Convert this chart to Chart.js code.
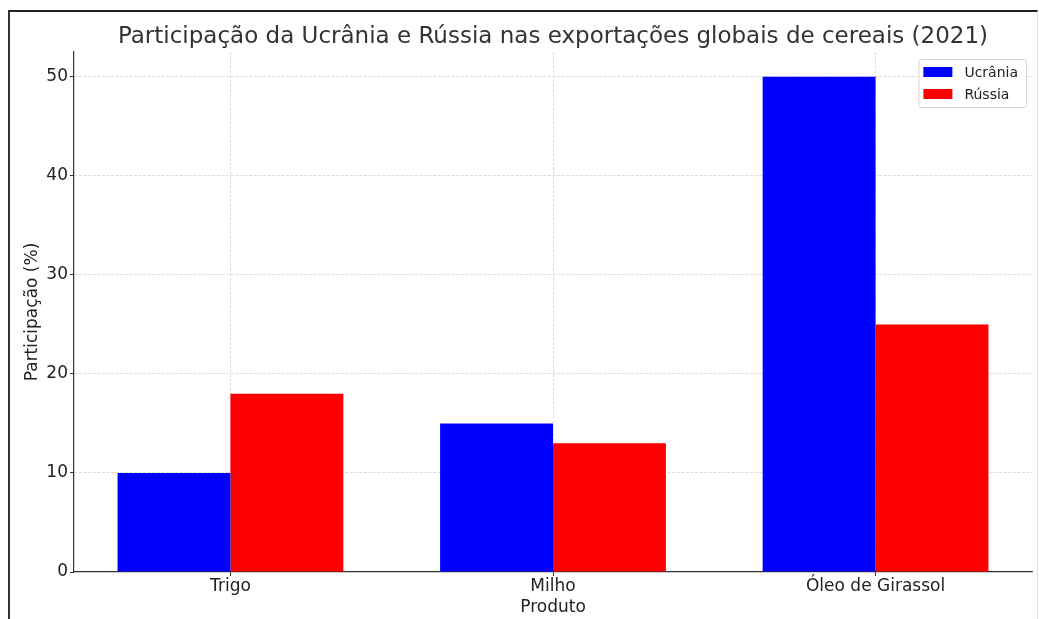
<!DOCTYPE html>
<html lang="pt">
<head>
<meta charset="utf-8">
<title>Participação da Ucrânia e Rússia nas exportações globais de cereais (2021)</title>
<script src="https://cdn.jsdelivr.net/npm/chart.js@4/dist/chart.umd.min.js"></script>
<style>
  html, body { margin: 0; padding: 0; background: #ffffff; overflow: hidden; }
  #wrap { position: relative; width: 1039px; height: 619px; }
  #chart { position: absolute; left: 0; top: 0; }
  #frame {
    position: absolute; left: 8px; top: 10px; width: 1027px; height: 620px;
    border-top: 2px solid #222; border-left: 2px solid #333; border-right: 1px solid #e2e2e2;
    pointer-events: none;
  }
</style>
</head>
<body>
<div id="wrap">
  <canvas id="chart" width="1039" height="619"></canvas>
  <div id="frame"></div>
</div>
<script>
// Products and each country's share of global exports (%)
const categories = ['Trigo', 'Milho', 'Óleo de Girassol'];
const ucrania = [10, 15, 50];
const russia = [18, 13, 25];
const seriesNames = ['Ucrânia', 'Rússia'];
const yTicks = [0, 10, 20, 30, 40, 50];

const FONT = "'DejaVu Sans', 'Liberation Sans', sans-serif";
const TEXT = '#222222';
const GRID = '#d3d3d3';
const SPINE = '#333333';

// Legend box drawn in the upper-right corner of the plot area
const cornerLegend = {
  id: 'cornerLegend',
  afterDraw(chart) {
    const { ctx, chartArea } = chart;
    const sets = chart.data.datasets;
    ctx.save();
    ctx.font = '14px ' + FONT;
    const textW = Math.max(...sets.map(d => ctx.measureText(d.label).width));
    const padL = 5, patchW = 29, patchH = 10, gap = 12, padR = 8, padV = 13, rowH = 22;
    const w = padL + patchW + gap + textW + padR;
    const h = padV * 2 + rowH * (sets.length - 1);
    const x = chartArea.right - 6 - w;
    const y = chartArea.top + 7;
    ctx.beginPath();
    ctx.roundRect(x + 0.5, y + 0.5, w, h, 3);
    ctx.fillStyle = 'rgba(255,255,255,0.85)';
    ctx.fill();
    ctx.strokeStyle = '#d4d4d4';
    ctx.lineWidth = 1;
    ctx.stroke();
    sets.forEach((d, i) => {
      const cy = y + padV + i * rowH;
      ctx.fillStyle = d.backgroundColor;
      ctx.fillRect(x + padL, cy - patchH / 2, patchW, patchH);
      ctx.fillStyle = TEXT;
      ctx.textBaseline = 'middle';
      ctx.textAlign = 'left';
      ctx.fillText(d.label, x + padL + patchW + gap, cy + 1);
    });
    ctx.restore();
  }
};

const gridColor = (c) => (c.tick && c.tick.value === 0 && c.scale.axis === 'y') ? 'rgba(0,0,0,0)' : GRID;

new Chart(document.getElementById('chart'), {
  type: 'bar',
  data: {
    datasets: [
      {
        label: seriesNames[0],
        data: ucrania.map((v, i) => ({ x: i, y: v })),
        backgroundColor: '#0000ff',
        borderWidth: 0,
        categoryPercentage: 0.7,
        barPercentage: 1.0
      },
      {
        label: seriesNames[1],
        data: russia.map((v, i) => ({ x: i, y: v })),
        backgroundColor: '#ff0000',
        borderWidth: 0,
        categoryPercentage: 0.7,
        barPercentage: 1.0
      }
    ]
  },
  options: {
    responsive: false,
    animation: false,
    devicePixelRatio: 1,
    layout: { padding: { left: 10, right: 7, top: 0, bottom: 0 } },
    plugins: {
      legend: { display: false },
      tooltip: { enabled: false },
      title: {
        display: true,
        text: 'Participação da Ucrânia e Rússia nas exportações globais de cereais (2021)',
        fullSize: false,
        color: '#333333',
        font: { family: FONT, size: 23, weight: 'normal', lineHeight: 1.2 },
        padding: { top: 23.2, bottom: 1.2 }
      }
    },
    scales: {
      x: {
        type: 'linear',
        position: 'bottom',
        min: -0.485,
        max: 2.485,
        offset: false,
        z: 1,
        grid: { offset: false, color: gridColor, lineWidth: 0.8, tickLength: 4, tickColor: SPINE, tickWidth: 1 },
        border: { display: true, color: SPINE, width: 1.2, dash: [3, 1.6] },
        ticks: {
          stepSize: 1,
          includeBounds: false,
          autoSkip: false,
          maxRotation: 0,
          padding: 0,
          color: TEXT,
          font: { family: FONT, size: 17 },
          callback: (v) => categories[v] ?? ''
        },
        title: {
          display: true,
          text: 'Produto',
          color: TEXT,
          font: { family: FONT, size: 17 },
          padding: { top: 0, bottom: 1 }
        },
        afterFit: (s) => { s.height = 47; }
      },
      y: {
        position: 'left',
        min: 0,
        max: 52.5,
        z: 1,
        grid: { color: gridColor, lineWidth: 0.8, tickLength: 4, tickColor: SPINE, tickWidth: 1 },
        border: { display: true, color: SPINE, width: 1.2, dash: [3, 1.6] },
        ticks: {
          stepSize: 10,
          includeBounds: false,
          padding: 2,
          color: TEXT,
          font: { family: FONT, size: 17 },
          callback: (v) => (yTicks.includes(v) ? String(v) : '')
        },
        title: {
          display: true,
          text: 'Participação (%)',
          color: TEXT,
          font: { family: FONT, size: 17 },
          padding: { top: 12.3, bottom: 0 }
        },
        afterFit: (s) => { s.width = 64; }
      }
    }
  },
  plugins: [cornerLegend]
});
</script>
</body>
</html>
